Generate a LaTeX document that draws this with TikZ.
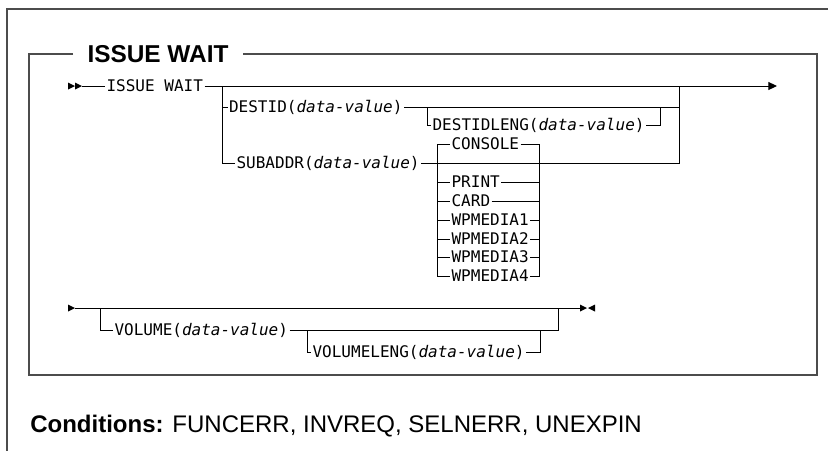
\documentclass[tikz,border=0pt]{standalone}
\usepackage{fontspec}
\setmainfont{Liberation Sans}
\newfontfamily\synmono{DejaVu Sans Mono}[ItalicFont={DejaVu Sans Mono Oblique}]
\usetikzlibrary{arrows.meta}
\newcommand{\dv}{\textit{data-value}}
\newcommand{\rtri}[1]{\fill #1 -- ++(-7,-3.5) -- ++(0,7) -- cycle;}
\newcommand{\ltri}[1]{\fill #1 -- ++(7,-3.5) -- ++(0,7) -- cycle;}

\begin{document}
\begin{tikzpicture}[x=0.75pt, y=-0.75pt,
    frame/.style={draw=black!70, line width=1.5pt},
    rail/.style={draw=black, line width=0.75pt},
    kw/.style={anchor=west, inner xsep=1pt, inner ysep=0pt, text height=8.75pt, text depth=0pt, font=\fontsize{12}{14}\selectfont\synmono},
    title/.style={inner xsep=10.5pt, inner ysep=0pt, text height=13.1pt, text depth=0pt, font=\fontsize{18.3}{22}\selectfont\bfseries},
    endtip/.style={-{Triangle[length=6.5pt, width=6pt]}}
]
\useasboundingbox (0,0) rectangle (828,451);

% frames
\node[title] (title) at (158,53.5) {ISSUE WAIT};
\draw[frame] (828,9) -- (7,9) -- (7,451);
\draw[frame] (title.west) -- (29,53.5) -- (29,375) -- (817,375) -- (817,53.5) -- (title.east);

% first rail
\coordinate (s1) at (82,86);
\coordinate (b1) at (222,86);
\coordinate (j1) at (679,86);
\coordinate (e1) at (777,86);
\node[kw] (issue) at (105,86) {ISSUE WAIT};
\rtri{(75,86)} \rtri{(82,86)}
\draw[rail] (s1) -- (issue.west);
\draw[rail, endtip] (issue.east) -- (e1);

\node[kw] (destid) at (227.5,107) {DESTID(\dv)};
\node[kw] (subaddr) at (235,163) {SUBADDR(\dv)};
\draw[rail] (b1) |- (destid.west);
\draw[rail] (b1) |- (subaddr.west);
\draw[rail] (destid.east) -- (destid.east -| j1);
\draw[rail] (subaddr.east) -| (j1);

\coordinate (dl1) at (427,107);
\coordinate (dl2) at (660,107);
\node[kw] (dlen) at (431,125) {DESTIDLENG(\dv)};
\draw[rail] (dl1) |- (dlen.west);
\draw[rail] (dlen.east) -| (dl2);

% device choices
\coordinate (cl) at (437,163);
\coordinate (cr) at (539,163);
\node[kw] (console) at (450,144) {CONSOLE};
\node[kw] (print) at (450,182) {PRINT};
\node[kw] (card) at (450,201) {CARD};
\node[kw] (wpa) at (450,220) {WPMEDIA1};
\node[kw] (wpb) at (450,239) {WPMEDIA2};
\node[kw] (wpc) at (450,257) {WPMEDIA3};
\node[kw] (wpd) at (450,276) {WPMEDIA4};
\draw[rail] (cl) |- (console.west) (console.east) -| (cr);
\draw[rail] (cl) |- (print.west) (print.east) -| (cr);
\draw[rail] (cl) |- (card.west) (card.east) -| (cr);
\draw[rail] (cl) |- (wpa.west) (wpa.east) -| (cr);
\draw[rail] (cl) |- (wpb.west) (wpb.east) -| (cr);
\draw[rail] (cl) |- (wpc.west) (wpc.east) -| (cr);
\draw[rail] (cl) |- (wpd.west) (wpd.east) -| (cr);

% second rail
\coordinate (s2) at (75,308);
\coordinate (v1) at (100,308);
\coordinate (j2) at (558,308);
\coordinate (e2) at (580,308);
\rtri{(75,308)}
\draw[rail] (s2) -- (e2);
\rtri{(587,308)} \ltri{(588,308)}

\node[kw] (volume) at (113,330) {VOLUME(\dv)};
\draw[rail] (v1) |- (volume.west);
\draw[rail] (volume.east) -| (j2);

\coordinate (vl1) at (307,330);
\coordinate (vl2) at (540,330);
\node[kw] (vlen) at (311,352) {VOLUMELENG(\dv)};
\draw[rail] (vl1) |- (vlen.west);
\draw[rail] (vlen.east) -| (vl2);

% conditions
\node[anchor=base west, inner sep=0pt, font=\fontsize{18}{21}\selectfont] (cond) at (30,432) {\textbf{Conditions:} FUNCERR, INVREQ, SELNERR, UNEXPIN};
\end{tikzpicture}
\end{document}
